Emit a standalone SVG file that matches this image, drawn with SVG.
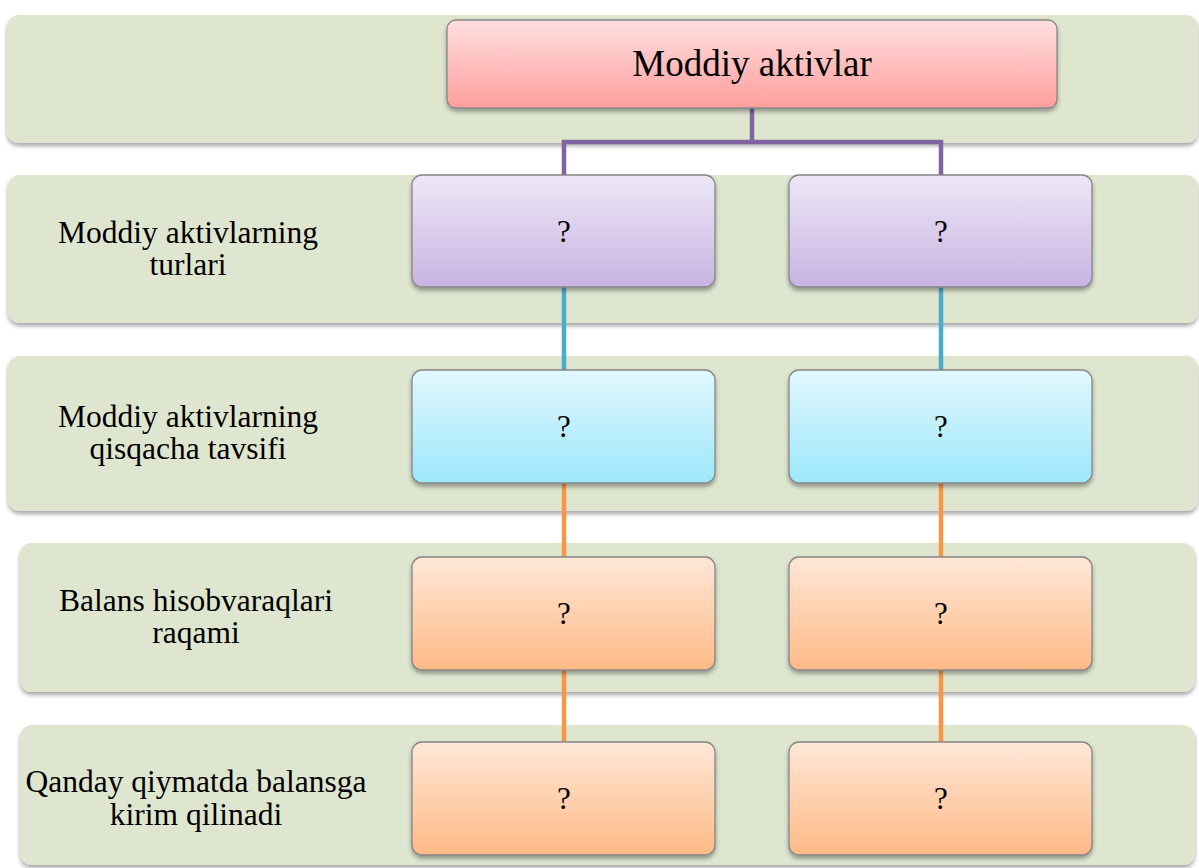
<svg xmlns="http://www.w3.org/2000/svg" width="1199" height="868" viewBox="0 0 1199 868">
<defs>
<filter id="sh" x="-5%" y="-10%" width="110%" height="130%">
<feDropShadow dx="0" dy="3" stdDeviation="2" flood-color="#000" flood-opacity="0.35"/>
</filter>
<linearGradient id="gPink" x1="0" y1="0" x2="0" y2="1"><stop offset="0" stop-color="#FFDFE0"/><stop offset="1" stop-color="#FF9E9C"/></linearGradient>
<linearGradient id="gPurple" x1="0" y1="0" x2="0" y2="1"><stop offset="0" stop-color="#EDE7F6"/><stop offset="1" stop-color="#C8B4E3"/></linearGradient>
<linearGradient id="gBlue" x1="0" y1="0" x2="0" y2="1"><stop offset="0" stop-color="#E2F8FE"/><stop offset="1" stop-color="#9CE7FC"/></linearGradient>
<linearGradient id="gOrange" x1="0" y1="0" x2="0" y2="1"><stop offset="0" stop-color="#FFE7D8"/><stop offset="1" stop-color="#FFBA86"/></linearGradient>
</defs>
<style>
.band{fill:#DEE6D0;filter:url(#sh)}
.box{stroke:#868686;stroke-width:1.3;filter:url(#sh)}
.con{fill:none;stroke-width:4.5}
text{fill:#000;text-anchor:middle}
</style>
<g id="bands">
<rect id="band1" class="band" x="7" y="15" width="1191" height="128" rx="12"/>
<rect id="band2" class="band" x="8" y="175" width="1190" height="148" rx="12"/>
<rect id="band3" class="band" x="8" y="356" width="1190" height="155" rx="12"/>
<rect id="band4" class="band" x="20" y="543" width="1175" height="149" rx="12"/>
<rect id="band5" class="band" x="20" y="725" width="1175" height="140" rx="12"/>
</g>
<g id="row-labels" font-family="'Liberation Serif', 'Times New Roman', 'DejaVu Serif', serif" font-size="31.5">
<text x="188" y="243">Moddiy aktivlarning</text>
<text x="188" y="275">turlari</text>
<text x="188" y="427">Moddiy aktivlarning</text>
<text x="188" y="459">qisqacha tavsifi</text>
<text x="196" y="611">Balans hisobvaraqlari</text>
<text x="196" y="643">raqami</text>
<text x="196" y="792">Qanday qiymatda balansga</text>
<text x="196" y="825">kirim qilinadi</text>
</g>
<g id="connectors">
<path class="con" stroke="#8064A2" d="M752,108 V142 H564 V176 M752,142 H941 V176"/>
<path class="con" stroke="#4BACC6" d="M564,287 V370 M941,287 V370"/>
<path class="con" stroke="#F79646" d="M564,483 V558 M941,483 V558 M564,670 V742 M941,670 V742"/>
</g>
<g font-family="'Liberation Serif', 'Times New Roman', 'DejaVu Serif', serif" font-size="31">
<g id="root">
<rect class="box" x="447" y="20" width="610" height="88" rx="9" fill="url(#gPink)"/>
<text x="752" y="76" font-size="37">Moddiy aktivlar</text>
</g>
<g id="type-left">
<rect class="box" x="412" y="175" width="303" height="112" rx="10" fill="url(#gPurple)"/>
<text x="564" y="242">?</text>
</g>
<g id="type-right">
<rect class="box" x="789" y="175" width="303" height="112" rx="10" fill="url(#gPurple)"/>
<text x="941" y="242">?</text>
</g>
<g id="desc-left">
<rect class="box" x="412" y="370" width="303" height="113" rx="10" fill="url(#gBlue)"/>
<text x="564" y="437">?</text>
</g>
<g id="desc-right">
<rect class="box" x="789" y="370" width="303" height="113" rx="10" fill="url(#gBlue)"/>
<text x="941" y="437">?</text>
</g>
<g id="acc-left">
<rect class="box" x="412" y="557" width="303" height="113" rx="10" fill="url(#gOrange)"/>
<text x="564" y="624">?</text>
</g>
<g id="acc-right">
<rect class="box" x="789" y="557" width="303" height="113" rx="10" fill="url(#gOrange)"/>
<text x="941" y="624">?</text>
</g>
<g id="val-left">
<rect class="box" x="412" y="742" width="303" height="113" rx="10" fill="url(#gOrange)"/>
<text x="564" y="809">?</text>
</g>
<g id="val-right">
<rect class="box" x="789" y="742" width="303" height="113" rx="10" fill="url(#gOrange)"/>
<text x="941" y="809">?</text>
</g>
</g>
</svg>
